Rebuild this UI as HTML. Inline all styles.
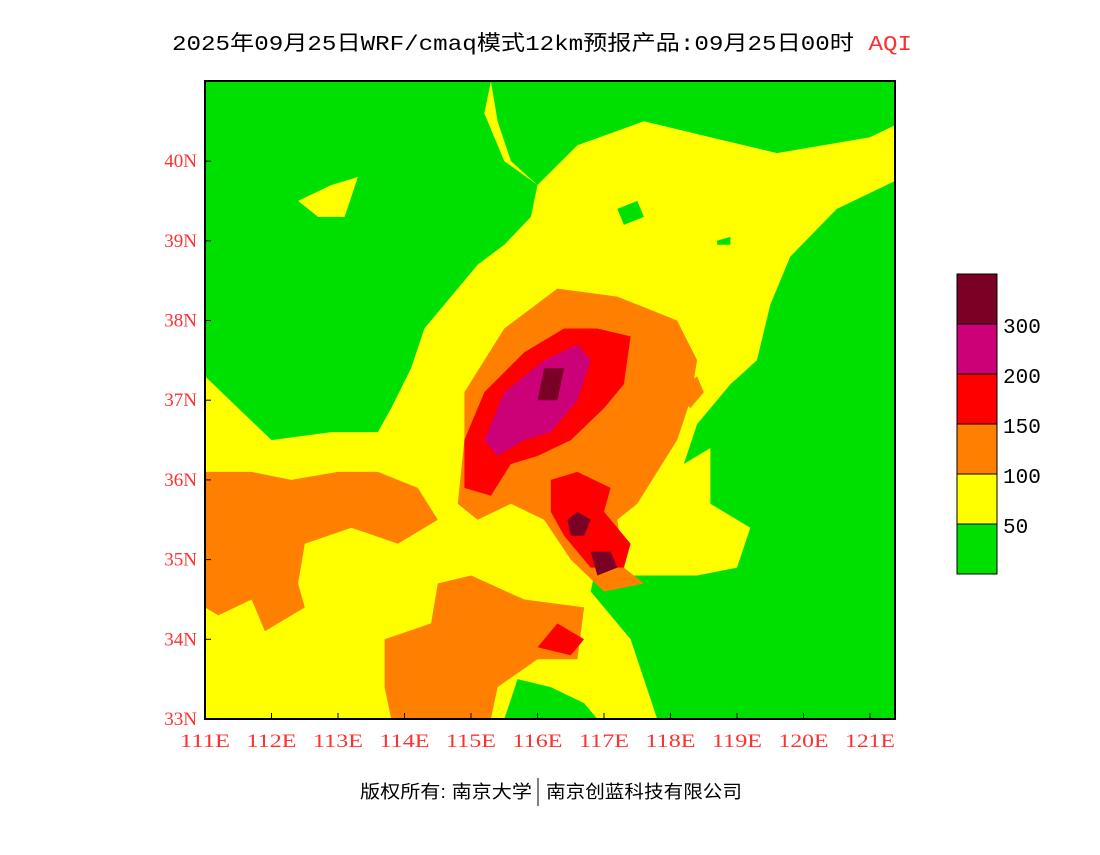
<!DOCTYPE html>
<html><head><meta charset="utf-8">
<style>
body{margin:0;background:#fff;width:1100px;height:850px;overflow:hidden;font-family:"Liberation Mono","Noto Sans CJK SC",monospace;}
</style></head>
<body>
<svg id="chart" width="1100" height="850" xmlns="http://www.w3.org/2000/svg">
<text x="172" y="50" font-size="21" textLength="740" lengthAdjust="spacingAndGlyphs" font-family="Liberation Mono,Noto Sans CJK SC,monospace" fill="#000">2025年09月25日WRF/cmaq模式12km预报产品:09月25日00时 <tspan fill="#ff3030">AQI</tspan></text>
<defs><clipPath id="plotclip"><rect x="205" y="81" width="690" height="638"/></clipPath></defs>
<g id="map" clip-path="url(#plotclip)"></g>
<rect x="205" y="81" width="690" height="638" fill="none" stroke="#000" stroke-width="2"/>
<g id="axes"></g>
<g id="legend"></g>
<text x="360" y="798" font-size="18" textLength="172" lengthAdjust="spacingAndGlyphs" font-family="Liberation Sans,Noto Sans CJK SC,sans-serif">版权所有: 南京大学</text>
<line x1="538" y1="778" x2="538" y2="806" stroke="#000"/>
<text x="546" y="798" font-size="18" textLength="196" lengthAdjust="spacingAndGlyphs" font-family="Liberation Sans,Noto Sans CJK SC,sans-serif">南京创蓝科技有限公司</text>
</svg>
<script>
const lonTicks=[111,112,113,114,115,116,117,118,119,120,121];
const latTicks=[33,34,35,36,37,38,39,40];
const legendLevels=["300","200","150","100","50"];
const legendColors=["#7a0026","#cc0077","#ff0000","#ff8000","#ffff00","#00e000"];
const greenNW=[[111,41],[115.3,41],[115.2,40.6],[115.5,40],[116,39.7],[115.9,39.3],[115.5,38.95],[115.1,38.7],[114.8,38.4],[114.3,37.9],[114.1,37.4],[113.8,36.9],[113.6,36.6],[112.9,36.6],[112,36.5],[111.5,36.9],[111,37.3]];
const yellowNW=[[112.4,39.5],[112.9,39.7],[113.3,39.8],[113.1,39.3],[112.7,39.3]];
const greenN=[[115.3,41],[121.5,41],[121.5,40.5],[121,40.3],[119.6,40.1],[118.6,40.3],[117.6,40.5],[116.6,40.2],[116,39.7],[115.6,40],[115.4,40.5]];
const greenPatch1=[[117.2,39.4],[117.5,39.5],[117.6,39.3],[117.3,39.2]];
const greenPatch2=[[118.7,39.0],[118.9,39.05],[118.9,38.95],[118.7,38.95]];
const greenE=[[121.5,39.8],[120.5,39.4],[119.8,38.8],[119.5,38.2],[119.3,37.5],[118.9,37.2],[118.4,36.7],[118.2,36.2],[118.6,36.4],[118.6,35.7],[119.2,35.4],[119,34.9],[118.4,34.8],[117.4,34.8],[116.9,35.0],[116.8,34.6],[117.4,34.0],[117.8,33],[121.5,33]];
const greenS=[[115.5,33],[115.7,33.5],[116.2,33.4],[116.7,33.2],[116.9,33]];
const orangeC=[[114.9,37.1],[115.5,37.9],[116.3,38.4],[117.2,38.3],[118.1,38.0],[118.4,37.5],[118.3,37.0],[118.1,36.5],[117.8,36.1],[117.5,35.7],[117.2,35.5],[117.3,34.9],[117.6,34.7],[117.0,34.6],[116.5,35.0],[116.1,35.5],[115.6,35.7],[115.1,35.5],[114.8,35.7],[114.9,36.5]];
const orangeE=[[118.1,37.1],[118.4,37.3],[118.5,37.1],[118.3,36.9]];
const orangeW=[[111,36.1],[111.7,36.1],[112.3,36.0],[113.0,36.1],[113.6,36.1],[114.2,35.9],[114.5,35.5],[113.9,35.2],[113.2,35.4],[112.5,35.2],[112.4,34.7],[112.5,34.4],[111.9,34.1],[111.7,34.5],[111.2,34.3],[111,34.4]];
const orangeS=[[113.7,34.0],[114.4,34.2],[114.5,34.7],[115.0,34.8],[115.8,34.5],[116.7,34.4],[116.6,33.75],[116.0,33.75],[115.4,33.4],[115.3,33],[113.8,33],[113.7,33.4]];
const redC=[[114.9,36.5],[115.2,37.1],[115.8,37.6],[116.4,37.9],[116.9,37.9],[117.4,37.8],[117.3,37.2],[117.0,36.9],[116.5,36.5],[116.0,36.3],[115.6,36.2],[115.3,35.8],[114.9,35.9]];
const redSE=[[116.2,36.0],[116.6,36.1],[117.1,35.9],[117.0,35.6],[117.4,35.2],[117.3,34.9],[116.8,34.9],[116.4,35.3],[116.2,35.6]];
const redS=[[116.0,33.9],[116.3,34.2],[116.7,34.0],[116.5,33.8]];
const magC=[[115.2,36.5],[115.5,37.1],[116.1,37.5],[116.6,37.7],[116.8,37.5],[116.6,37.0],[116.2,36.6],[115.8,36.5],[115.4,36.3]];
const darkA=[[116.0,37.0],[116.1,37.4],[116.4,37.4],[116.3,37.0]];
const darkB=[[116.45,35.5],[116.6,35.6],[116.8,35.5],[116.7,35.3],[116.5,35.3]];
const darkC=[[116.8,35.1],[117.1,35.1],[117.2,34.9],[116.9,34.8]];
const x=lon=>205+(lon-111)*66.5;
const y=lat=>719-(lat-33)*79.7;
const NS="http://www.w3.org/2000/svg";
const map=document.getElementById('map');
const r0=document.createElementNS(NS,'rect');r0.setAttribute('x',205);r0.setAttribute('y',81);r0.setAttribute('width',690);r0.setAttribute('height',638);r0.setAttribute('fill','#ffff00');


map.appendChild(r0);
function poly(pts,color,name){const p=document.createElementNS(NS,'path');
p.setAttribute('d',pts.map((q,i)=>(i?'L':'M')+x(q[0]).toFixed(1)+','+y(q[1]).toFixed(1)).join(' ')+'Z');
p.setAttribute('fill',color);


map.appendChild(p);}
poly(greenNW,legendColors[5],'aqi-region-green-nw');
poly(yellowNW,legendColors[4],'aqi-region-yellow-nw');
poly(greenN,legendColors[5],'aqi-region-green-n');
poly(greenPatch1,legendColors[5],'aqi-region-green-patch1');
poly(greenPatch2,legendColors[5],'aqi-region-green-patch2');
poly(greenE,legendColors[5],'aqi-region-green-e');
poly(greenS,legendColors[5],'aqi-region-green-s');
poly(orangeC,legendColors[3],'aqi-region-orange-c');
poly(orangeE,legendColors[3],'aqi-region-orange-e');
poly(orangeW,legendColors[3],'aqi-region-orange-w');
poly(orangeS,legendColors[3],'aqi-region-orange-s');
poly(redC,legendColors[2],'aqi-region-red-c');
poly(redSE,legendColors[2],'aqi-region-red-se');
poly(redS,legendColors[2],'aqi-region-red-s');
poly(magC,legendColors[1],'aqi-region-magenta-c');
poly(darkA,legendColors[0],'aqi-region-dark-a');
poly(darkB,legendColors[0],'aqi-region-dark-b');
poly(darkC,legendColors[0],'aqi-region-dark-c');
const axes=document.getElementById('axes');
lonTicks.forEach(v=>{const t=document.createElementNS(NS,'text');t.setAttribute('x',x(v));t.setAttribute('y',747);t.setAttribute('text-anchor','middle');t.setAttribute('font-size','19');t.setAttribute('textLength','50');t.setAttribute('lengthAdjust','spacingAndGlyphs');t.setAttribute('fill','#ff3030');t.setAttribute('font-family','Liberation Serif,serif');t.textContent=v+'E';


axes.appendChild(t);
const l=document.createElementNS(NS,'line');l.setAttribute('x1',x(v));l.setAttribute('x2',x(v));l.setAttribute('y1',719);l.setAttribute('y2',713);l.setAttribute('stroke','#000');


axes.appendChild(l);});
latTicks.forEach(v=>{const t=document.createElementNS(NS,'text');t.setAttribute('x',197);t.setAttribute('y',y(v)+6);t.setAttribute('text-anchor','end');t.setAttribute('font-size','19');t.setAttribute('fill','#ff3030');t.setAttribute('font-family','Liberation Serif,serif');t.textContent=v+'N';


axes.appendChild(t);
const l=document.createElementNS(NS,'line');l.setAttribute('x1',205);l.setAttribute('x2',211);l.setAttribute('y1',y(v));l.setAttribute('y2',y(v));l.setAttribute('stroke','#000');


axes.appendChild(l);});
const lg=document.getElementById('legend');
legendColors.forEach((c,i)=>{const r=document.createElementNS(NS,'rect');r.setAttribute('x',957);r.setAttribute('y',274+i*50);r.setAttribute('width',40);r.setAttribute('height',50);r.setAttribute('fill',c);r.setAttribute('stroke','#000');


lg.appendChild(r);});
legendLevels.forEach((s,i)=>{const t=document.createElementNS(NS,'text');t.setAttribute('x',1003);t.setAttribute('y',333+i*50);t.setAttribute('font-size','21');t.setAttribute('font-family','Liberation Mono,monospace');t.textContent=s;


lg.appendChild(t);});
</script>
</body></html>
